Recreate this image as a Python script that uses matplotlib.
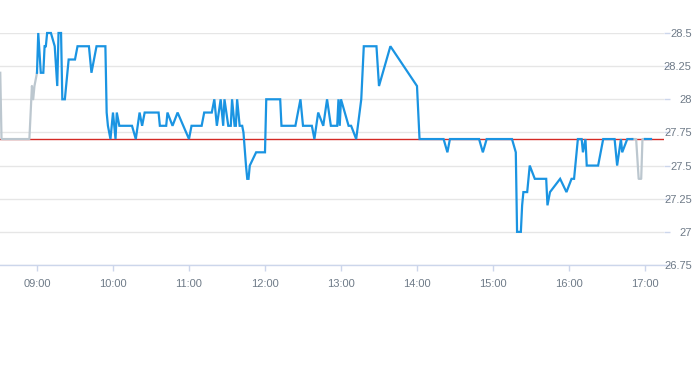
import matplotlib
matplotlib.use("Agg")
import matplotlib.pyplot as plt

# ---- data ----
pre_times = ["08:31", "08:32", "08:54", "08:56", "08:57", "08:58", "09:00"]
pre_values = [28.2, 27.7, 27.7, 28.1, 28.0, 28.1, 28.2]

main_times = [
    "09:00", "09:01", "09:03", "09:05", "09:06", "09:07", "09:08", "09:11", "09:14", "09:16",
    "09:17", "09:19", "09:20", "09:22", "09:25", "09:30", "09:32", "09:41", "09:43", "09:47",
    "09:54", "09:55", "09:56", "09:58", "10:00", "10:02", "10:03", "10:05", "10:15", "10:18",
    "10:21", "10:23", "10:25", "10:36", "10:37", "10:42", "10:43", "10:47", "10:51", "11:00",
    "11:02", "11:10", "11:12", "11:18", "11:20", "11:22", "11:25", "11:27", "11:28", "11:31",
    "11:33", "11:34", "11:36", "11:37", "11:38", "11:40", "11:42", "11:43", "11:45", "11:46",
    "11:47", "11:48", "11:53", "12:00", "12:01", "12:12", "12:13", "12:24", "12:28", "12:30",
    "12:37", "12:39", "12:42", "12:46", "12:49", "12:52", "12:57", "12:58", "12:59", "13:00",
    "13:06", "13:08", "13:12", "13:16", "13:18", "13:28", "13:30", "13:39", "14:00", "14:02",
    "14:21", "14:24", "14:26", "14:49", "14:52", "14:55", "15:15", "15:18", "15:19", "15:22",
    "15:23", "15:24", "15:27", "15:29", "15:33", "15:42", "15:43", "15:45", "15:53", "15:58",
    "16:02", "16:04", "16:07", "16:10", "16:11", "16:13", "16:14", "16:23", "16:27", "16:36",
    "16:38", "16:41", "16:42", "16:46", "16:50",
]
main_values = [
    28.2, 28.5, 28.2, 28.2, 28.4, 28.4, 28.5, 28.5, 28.4, 28.1,
    28.5, 28.5, 28.0, 28.0, 28.3, 28.3, 28.4, 28.4, 28.2, 28.4,
    28.4, 27.9, 27.8, 27.7, 27.9, 27.7, 27.9, 27.8, 27.8, 27.7,
    27.9, 27.8, 27.9, 27.9, 27.8, 27.8, 27.9, 27.8, 27.9, 27.7,
    27.8, 27.8, 27.9, 27.9, 28.0, 27.8, 28.0, 27.8, 28.0, 27.8,
    27.8, 28.0, 27.8, 27.8, 28.0, 27.8, 27.8, 27.75, 27.5, 27.4,
    27.4, 27.5, 27.6, 27.6, 28.0, 28.0, 27.8, 27.8, 28.0, 27.8,
    27.8, 27.7, 27.9, 27.8, 28.0, 27.8, 27.8, 28.0, 27.8, 28.0,
    27.8, 27.8, 27.7, 28.0, 28.4, 28.4, 28.1, 28.4, 28.1, 27.7,
    27.7, 27.6, 27.7, 27.7, 27.6, 27.7, 27.7, 27.6, 27.0, 27.0,
    27.2, 27.3, 27.3, 27.5, 27.4, 27.4, 27.2, 27.3, 27.4, 27.3,
    27.4, 27.4, 27.7, 27.7, 27.6, 27.7, 27.5, 27.5, 27.7, 27.7,
    27.5, 27.7, 27.6, 27.7, 27.7,
]

close_times = ["16:50", "16:53", "16:55", "16:57", "16:58", "17:00"]
close_values = [27.7, 27.7, 27.4, 27.4, 27.7, 27.7]

post_times = ["17:00", "17:05"]
post_values = [27.7, 27.7]

prev_close = 27.70

x_tick_labels = ["09:00", "10:00", "11:00", "12:00", "13:00", "14:00", "15:00", "16:00", "17:00"]
y_ticks = [26.75, 27.0, 27.25, 27.5, 27.75, 28.0, 28.25, 28.5]


def to_min(s):
    h, m = s.split(":")
    return int(h) * 60 + int(m)


BLUE = "#1a94e2"
GRAY = "#bcc7cf"
LABEL = "#6f7b88"
AXIS = "#ccd6eb"
GRID = "#e6e6e6"

plt.rcParams["font.family"] = ["Liberation Sans Narrow", "Liberation Sans", "DejaVu Sans"]

fig = plt.figure(figsize=(6.93, 3.65), dpi=100)
ax = fig.add_axes([0.0, 0.274, 664 / 693, 0.9096 - 0.274])

for y in y_ticks:
    ax.axhline(y, color=GRID, lw=1.0, zorder=0)

ax.axhline(prev_close, color="#d42a25", lw=1.0, zorder=2)

ax.plot([to_min(t) for t in pre_times], pre_values, color=GRAY, lw=1.6, zorder=3, clip_on=False)
ax.plot([to_min(t) for t in close_times], close_values, color=GRAY, lw=1.6, zorder=3, clip_on=False)
ax.plot([to_min(t) for t in main_times], main_values, color=BLUE, lw=1.6, zorder=4, clip_on=False,
        solid_joinstyle="miter")
ax.plot([to_min(t) for t in post_times], post_values, color=BLUE, lw=1.6, zorder=4, clip_on=False)

ax.set_xlim(510.8, 1035)
ax.set_ylim(26.75, 28.5)

ax.set_xticks([to_min(t) for t in x_tick_labels])
ax.set_xticklabels(x_tick_labels)
ax.set_yticks(y_ticks)
ax.set_yticklabels(["%g" % v for v in y_ticks])

ax.yaxis.tick_right()
for s in ["left", "top", "right"]:
    ax.spines[s].set_visible(False)
ax.spines["bottom"].set_color(AXIS)
ax.spines["bottom"].set_linewidth(1.0)

ax.tick_params(axis="x", colors=AXIS, length=4, width=1, pad=6, labelsize=8, labelcolor=LABEL)
ax.tick_params(axis="y", colors=AXIS, length=4.3, width=1, pad=15.7, labelsize=8, labelcolor=LABEL)
for lab in ax.get_yticklabels():
    lab.set_horizontalalignment("right")

fig.savefig("out.png", dpi=100, facecolor="white")
